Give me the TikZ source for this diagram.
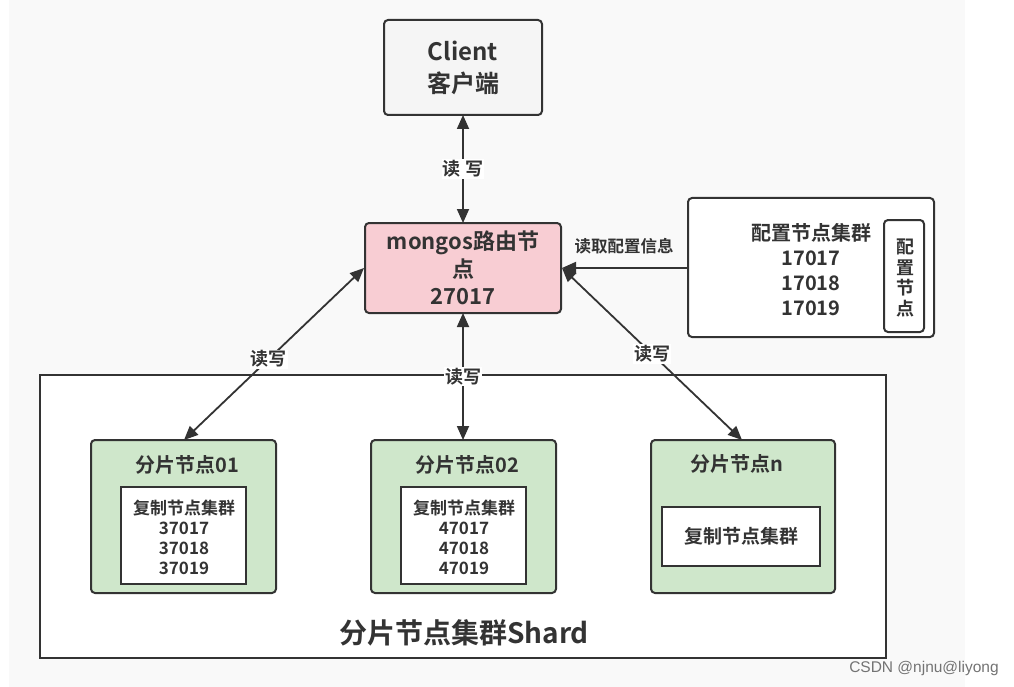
\documentclass[tikz,border=0pt]{standalone}
\usepackage{fontspec}
\setmainfont{Noto Sans CJK SC}[BoldFont={Noto Sans CJK SC Bold}]
\newfontfamily\wmfont{Liberation Sans}
\usetikzlibrary{arrows.meta}
\definecolor{ink}{HTML}{333333}
\definecolor{bggray}{HTML}{F9F9F9}
\definecolor{clientfill}{HTML}{F5F5F5}
\definecolor{pinkfill}{HTML}{F8CDD3}
\definecolor{greenfill}{HTML}{CFE7CB}
\begin{document}
\begin{tikzpicture}[x=1pt,y=-1pt,
  box/.style={draw=ink, line width=2pt, rounded corners=4pt},
  sqbox/.style={draw=ink, line width=2pt},
  txt/.style={text=ink, font=\bfseries, align=center, inner sep=0pt},
  lbl/.style={text=ink, font=\bfseries\fontsize{18}{20}\selectfont, fill=white, inner sep=1pt},
  arr/.style={draw=ink, line width=1.8pt, {Triangle[length=14pt,width=12pt]}-{Triangle[length=14pt,width=12pt]}},
  sarr/.style={draw=ink, line width=1.8pt, -{Triangle[length=14pt,width=12pt]}}]
\useasboundingbox (0,0) rectangle (1014,687);
\fill[white] (0,0) rectangle (1014,687);
\fill[bggray] (9,0) rectangle (965,687);
% client
\draw[box, fill=clientfill] (384,20) rectangle (542,115);
\node[txt, font=\bfseries\fontsize{24}{32}\selectfont] (client) at (463,68) {Client\\客户端};
\coordinate (cb) at (463,115);
% mongos
\draw[box, fill=pinkfill] (365,223) rectangle (561,313);
\node[txt, font=\bfseries\fontsize{22}{27.5}\selectfont] (mongos) at (463,268) {mongos路由节\\点\\27017};
\coordinate (mt) at (463,223);
\coordinate (mb) at (463,313);
\coordinate (ml) at (364,268);
\coordinate (mr) at (562,268);
% config
\draw[box, fill=white] (688,198) rectangle (934,337);
\node[txt, font=\bfseries\fontsize{20}{25}\selectfont] (config) at (811,270) {配置节点集群\\17017\\17018\\17019};
\draw[box, fill=white] (884,220) rectangle (924,332);
\node[txt, font=\bfseries\fontsize{18}{20.5}\selectfont] (cfgv) at (905,278) {配\\置\\节\\点};
\coordinate (cl) at (688,268);
% shard outer
\draw[sqbox, fill=white] (40,375) rectangle (886,658);
\node[txt, font=\bfseries\fontsize{28}{32}\selectfont] (shardtitle) at (464,633) {分片节点集群Shard};
% shard 01
\draw[box, fill=greenfill] (91,440) rectangle (276,593);
\node[txt, font=\bfseries\fontsize{20}{22}\selectfont] (s1t) at (187,465) {分片节点01};
\draw[sqbox, fill=white] (121,487) rectangle (246,584);
\node[txt, font=\bfseries\fontsize{17}{20}\selectfont] (s1i) at (184,537) {复制节点集群\\37017\\37018\\37019};
\coordinate (s1top) at (184,440);
% shard 02
\draw[box, fill=greenfill] (371,440) rectangle (556,593);
\node[txt, font=\bfseries\fontsize{20}{22}\selectfont] (s2t) at (467,465) {分片节点02};
\draw[sqbox, fill=white] (401,487) rectangle (526,584);
\node[txt, font=\bfseries\fontsize{17}{20}\selectfont] (s2i) at (464,537) {复制节点集群\\47017\\47018\\47019};
\coordinate (s2top) at (463,440);
% shard n
\draw[box, fill=greenfill] (651,440) rectangle (835,593);
\node[txt, font=\bfseries\fontsize{20}{22}\selectfont] (snt) at (737,464) {分片节点n};
\draw[sqbox, fill=white] (662,507) rectangle (820,566);
\node[txt, font=\bfseries\fontsize{19}{22}\selectfont] (sni) at (741,536) {复制节点集群};
\coordinate (sntop) at (742,440);
% connectors
\draw[arr] (cb) -- (mt) node[lbl, midway] {读 写};
\draw[sarr] (cl) -- (mr);
\node[text=ink, font=\bfseries\fontsize{16.5}{18}\selectfont] (cfglbl) at (624,246) {读取配置信息};
\draw[arr] (s1top) -- (ml) node[lbl, pos=0.47] {读写};
\draw[arr] (s2top) -- (mb) node[lbl, pos=0.5] {读写};
\draw[arr] (sntop) -- (mr) node[lbl, pos=0.5] {读写};
% watermark
\node[text=black!55, font=\wmfont\fontsize{15.5}{17}\selectfont, inner sep=0pt] (wm) at (924,668) {CSDN @njnu@liyong};
\end{tikzpicture}
\end{document}
